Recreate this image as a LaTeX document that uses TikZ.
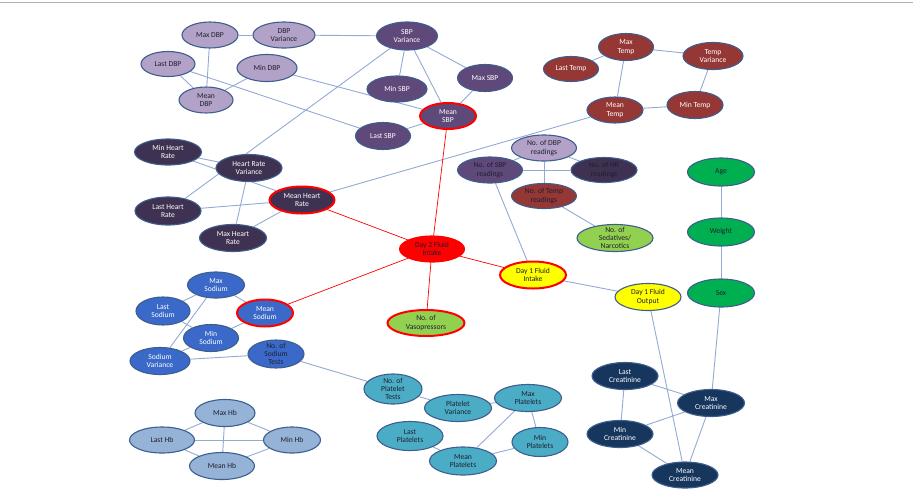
\documentclass[tikz,border=0pt]{standalone}
\usepackage{fontspec}
\setmainfont{Carlito}
\usetikzlibrary{shapes.geometric,backgrounds}
\definecolor{bord}{HTML}{3E5E8E}
\definecolor{edgec}{HTML}{93AAD3}
\definecolor{cdbp}{HTML}{B3A2C7}
\definecolor{csbp}{HTML}{5F497A}
\definecolor{ctemp}{HTML}{953735}
\definecolor{chr}{HTML}{3F3151}
\definecolor{cna}{HTML}{3A69C9}
\definecolor{cplt}{HTML}{4BACC6}
\definecolor{ccr}{HTML}{17365D}
\definecolor{chb}{HTML}{95B3D7}
\definecolor{cgreen}{HTML}{00B050}
\definecolor{clgreen}{HTML}{92D050}
\definecolor{cyel}{HTML}{FFFF00}
\definecolor{cred}{HTML}{FF0000}
\definecolor{tdark}{HTML}{1F1F2E}
\tikzset{
  base/.style={ellipse, draw=bord, line width=1.1pt, inner sep=0pt},
  sz/.style 2 args={minimum width=#1pt, minimum height=#2pt},
  rb/.style={draw=cred, line width=2pt},
  lw/.style={font=\fontsize{7.6}{8.4}\selectfont, align=center, text=white, inner sep=0pt},
  ld/.style={font=\fontsize{7.6}{8.4}\selectfont, align=center, text=tdark, inner sep=0pt},
  tw/.style={label={[lw]center:{#1}}},
  td/.style={label={[ld]center:{#1}}},
  link/.style={draw=edgec, line width=0.9pt},
  rlink/.style={draw=cred, line width=0.7pt},
}
\begin{document}
\begin{tikzpicture}[x=1pt,y=-1pt]
\useasboundingbox (0,0) rectangle (913,488);
\coordinate (tl) at (0,2);
\coordinate (tr) at (913,2);
\draw[gray!60, line width=0.6pt] (tl) -- (tr);
% DBP
\node[base, fill=cdbp, sz={56}{26}, td={Max DBP}] (maxdbp) at (210,35) {};
\node[base, fill=cdbp, sz={62}{26}, td={DBP\\Variance}] (dbpvar) at (284,35) {};
\node[base, fill=cdbp, sz={54}{25}, td={Last DBP}] (lastdbp) at (168,64) {};
\node[base, fill=cdbp, sz={60}{27}, td={Min DBP}] (mindbp) at (267,68) {};
\node[base, fill=cdbp, sz={54}{26}, td={Mean\\DBP}] (meandbp) at (206,100) {};
% SBP
\node[base, fill=csbp, sz={61}{28}, tw={SBP\\Variance}] (sbpvar) at (407,36) {};
\node[base, fill=csbp, sz={60}{26}, tw={Min SBP}] (minsbp) at (397,89) {};
\node[base, fill=csbp, sz={55}{27}, tw={Max SBP}] (maxsbp) at (485,78) {};
\node[base, fill=csbp, sz={56}{26}, rb, tw={Mean\\SBP}] (meansbp) at (448,116) {};
\node[base, fill=csbp, sz={55}{27}, tw={Last SBP}] (lastsbp) at (383,136) {};
% Temp
\node[base, fill=ctemp, sz={55}{27}, tw={Max\\Temp}] (maxtemp) at (626,47) {};
\node[base, fill=ctemp, sz={55}{25}, tw={Last Temp}] (lasttemp) at (571,69) {};
\node[base, fill=ctemp, sz={60}{27}, tw={Temp\\Variance}] (tempvar) at (713,56) {};
\node[base, fill=ctemp, sz={56}{26}, tw={Mean\\Temp}] (meantemp) at (615,110) {};
\node[base, fill=ctemp, sz={56}{27}, tw={Min Temp}] (mintemp) at (695,105) {};
% Heart rate
\node[base, fill=chr, sz={67}{26}, tw={Min Heart\\Rate}] (minhr) at (168,152) {};
\node[base, fill=chr, sz={66}{27}, tw={Heart Rate\\Variance}] (hrvar) at (249,168) {};
\node[base, fill=chr, sz={66}{28}, tw={Last Heart\\Rate}] (lasthr) at (168,211) {};
\node[base, fill=chr, sz={65}{27}, rb, tw={Mean Heart\\Rate}] (meanhr) at (302,200) {};
\node[base, fill=chr, sz={67}{27}, tw={Max Heart\\Rate}] (maxhr) at (233,238) {};
% readings
\node[base, fill=cdbp, sz={65}{26}, td={No. of DBP\\readings}] (ndbp) at (544,148) {};
\node[base, fill=csbp, sz={65}{26}, td={No. of SBP\\readings}] (nsbp) at (490,170) {};
\node[base, fill=chr, sz={66}{25}, td={No. of HR\\readings}] (nhr) at (604,170) {};
\node[base, fill=ctemp, sz={65}{25}, td={No. of Temp\\readings}] (ntemp) at (544,196) {};
\node[base, fill=clgreen, sz={76}{27}, td={No. of\\Sedatives/\\Narcotics}] (nsed) at (615,238) {};
% demographics
\node[base, fill=cgreen, sz={67}{28}, td={Age}] (age) at (721,172) {};
\node[base, fill=cgreen, sz={67}{28}, td={Weight}] (weight) at (721,232) {};
\node[base, fill=cgreen, sz={67}{28}, td={Sex}] (sex) at (721,293) {};
% fluids
\node[base, fill=cred, draw=cred, sz={65}{26}, td={Day 2 Fluid\\Intake}] (day2) at (432,249) {};
\node[base, fill=cyel, sz={66}{27}, rb, td={Day 1 Fluid\\Intake}] (day1in) at (533,275) {};
\node[base, fill=cyel, sz={66}{27}, td={Day 1 Fluid\\Output}] (day1out) at (648,297) {};
\node[base, fill=clgreen, sz={77}{26}, rb, td={No. of\\Vasopressors}] (vaso) at (426,323) {};
% sodium
\node[base, fill=cna, sz={57}{26}, tw={Max\\Sodium}] (maxna) at (216,285) {};
\node[base, fill=cna, sz={54}{28}, tw={Last\\Sodium}] (lastna) at (163,311) {};
\node[base, fill=cna, sz={56}{27}, rb, tw={Mean\\Sodium}] (meanna) at (265,313) {};
\node[base, fill=cna, sz={55}{27}, tw={Min\\Sodium}] (minna) at (211,338) {};
\node[base, fill=cna, sz={60}{27}, tw={Sodium\\Variance}] (navar) at (160,361) {};
\node[base, fill=cna, sz={56}{28}, td={No. of\\Sodium\\Tests}] (nna) at (276,354) {};
% platelets
\node[base, fill=cplt, sz={58}{30}, td={No. of\\Platelet\\Tests}] (nplt) at (393,389) {};
\node[base, fill=cplt, sz={67}{27}, td={Platelet\\Variance}] (pltvar) at (458,408) {};
\node[base, fill=cplt, sz={67}{27}, td={Max\\Platelets}] (maxplt) at (528,398) {};
\node[base, fill=cplt, sz={66}{29}, td={Last\\Platelets}] (lastplt) at (410,436) {};
\node[base, fill=cplt, sz={56}{29}, td={Min\\Platelets}] (minplt) at (540,442) {};
\node[base, fill=cplt, sz={67}{28}, td={Mean\\Platelets}] (meanplt) at (463,461) {};
% creatinine
\node[base, fill=ccr, sz={66}{27}, tw={Last\\Creatinine}] (lastcr) at (625,376) {};
\node[base, fill=ccr, sz={67}{27}, tw={Max\\Creatinine}] (maxcr) at (711,403) {};
\node[base, fill=ccr, sz={66}{27}, tw={Min\\Creatinine}] (mincr) at (620,434) {};
\node[base, fill=ccr, sz={66}{26}, tw={Mean\\Creatinine}] (meancr) at (685,475) {};
% Hb
\node[base, fill=chb, sz={60}{27}, td={Max Hb}] (maxhb) at (225,413) {};
\node[base, fill=chb, sz={65}{26}, td={Last Hb}] (lasthb) at (162,440) {};
\node[base, fill=chb, sz={57}{26}, td={Min Hb}] (minhb) at (292,440) {};
\node[base, fill=chb, sz={65}{27}, td={Mean Hb}] (meanhb) at (222,466) {};
\begin{pgfonlayer}{background}
% DBP
\draw[link] (maxdbp) -- (dbpvar);
\draw[link] (dbpvar) -- (sbpvar);
\draw[link] (maxdbp) -- (meandbp);
\draw[link] (lastdbp) -- (meandbp);
\draw[link] (mindbp) -- (meandbp);
\draw[link] (lastdbp) -- (lastsbp);
\draw[link] (mindbp) -- (meansbp);
% SBP
\draw[link] (sbpvar) -- (minsbp);
\draw[link] (sbpvar) -- (meansbp);
\draw[link] (sbpvar) -- (maxsbp);
\draw[link] (maxsbp) -- (meansbp);
\draw[link] (meansbp) -- (lastsbp);
\draw[link] (sbpvar) -- (lasthr);
% Temp
\draw[link] (lasttemp) -- (maxtemp);
\draw[link] (maxtemp) -- (tempvar);
\draw[link] (maxtemp) -- (meantemp);
\draw[link] (tempvar) -- (mintemp);
\draw[link] (meantemp) -- (mintemp);
\draw[link] (meanhr) -- (meantemp);
% HR
\draw[link] (minhr) -- (hrvar);
\draw[link] (minhr) -- (meanhr);
\draw[link] (lasthr) -- (meanhr);
\draw[link] (hrvar) -- (maxhr);
\draw[link] (maxhr) -- (meanhr);
% readings
\draw[link] (ndbp) -- (nsbp);
\draw[link] (ndbp) -- (nhr);
\draw[link] (ndbp) -- (ntemp);
\draw[link] (nsbp) -- (nhr);
\draw[link] (ntemp) -- (nsed);
\draw[link] (nsbp) -- (day1in);
% demographics & fluids
\draw[link] (age) -- (weight);
\draw[link] (weight) -- (sex);
\draw[link] (sex) -- (maxcr);
\draw[link] (day1in) -- (day1out);
\draw[link] (day1out) -- (meancr);
\draw[rlink] (meansbp) -- (day2);
\draw[rlink] (meanhr) -- (day2);
\draw[rlink] (meanna) -- (day2);
\draw[rlink] (day2) -- (day1in);
\draw[rlink] (day2) -- (vaso);
% sodium
\draw[link] (maxna) -- (lastna);
\draw[link] (maxna) -- (meanna);
\draw[link] (lastna) -- (minna);
\draw[link] (maxna) -- (navar);
\draw[link] (minna) -- (meanna);
\draw[link] (navar) -- (minna);
\draw[link] (navar) -- (nna);
\draw[link] (nna) -- (nplt);
% platelets
\draw[link] (nplt) -- (pltvar);
\draw[link] (pltvar) -- (maxplt);
\draw[link] (maxplt) -- (minplt);
\draw[link] (maxplt) -- (meanplt);
\draw[link] (lastplt) -- (meanplt);
\draw[link] (meanplt) -- (minplt);
% creatinine
\draw[link] (lastcr) -- (maxcr);
\draw[link] (lastcr) -- (mincr);
\draw[link] (mincr) -- (maxcr);
\draw[link] (mincr) -- (meancr);
\draw[link] (maxcr) -- (meancr);
% Hb
\draw[link] (lasthb) -- (maxhb);
\draw[link] (maxhb) -- (minhb);
\draw[link] (lasthb) -- (minhb);
\draw[link] (lasthb) -- (meanhb);
\draw[link] (meanhb) -- (minhb);
\draw[link] (maxhb) -- (meanhb);
\end{pgfonlayer}
\end{tikzpicture}
\end{document}
